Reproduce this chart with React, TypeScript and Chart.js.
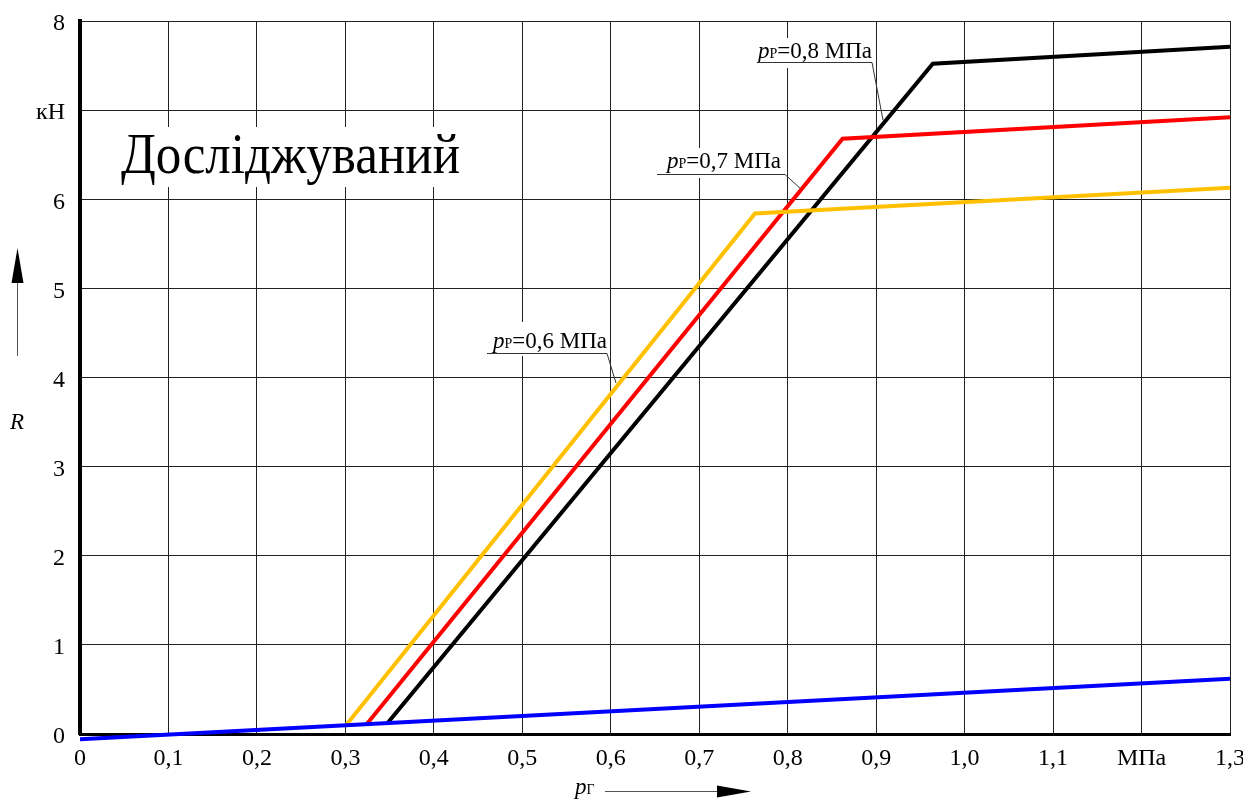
import React, { useEffect, useRef } from "react";
import { Chart, registerables } from "chart.js";

Chart.register(...registerables);

const SERIF = "'Liberation Serif', 'Times New Roman', serif";

const xTickValues = [0, 0.1, 0.2, 0.3, 0.4, 0.5, 0.6, 0.7, 0.8, 0.9, 1.0, 1.1, 1.2, 1.3];
const xTickLabels = ["0", "0,1", "0,2", "0,3", "0,4", "0,5", "0,6", "0,7", "0,8", "0,9", "1,0", "1,1", "МПа", "1,3"];
const yTickValues = [0, 1, 2, 3, 4, 5, 6, 7, 8];
const yTickLabels = ["0", "1", "2", "3", "4", "5", "6", "кН", "8"];

const blueX = [0, 1.3];
const blueY = [-0.06, 0.62];
const yellowX = [0.301, 0.763, 1.3];
const yellowY = [0.1, 5.84, 6.13];
const redX = [0.324, 0.862, 1.3];
const redY = [0.11, 6.68, 6.92];
const blackX = [0.347, 0.964, 1.3];
const blackY = [0.115, 7.52, 7.71];

const titleText = "Досліджуваний";
const labelTexts = ["=0,8 МПа", "=0,7 МПа", "=0,6 МПа"];

const toPts = (xs: number[], ys: number[]) => xs.map((x, i) => ({ x, y: ys[i] }));

const overlayPlugin = {
  id: "overlay",
  beforeDatasetsDraw(chart: any) {
    const ctx: CanvasRenderingContext2D = chart.ctx;
    ctx.save();
    ctx.fillStyle = "#fff";
    // white boxes under text
    ctx.fillRect(112, 127, 356, 60);
    ctx.fillRect(754, 38, 121, 30);
    ctx.fillRect(655, 148, 131, 30);
    ctx.fillRect(486, 322, 122, 34);

    // title
    ctx.fillStyle = "#000";
    ctx.font = `58px ${SERIF}`;
    ctx.textBaseline = "alphabetic";
    ctx.textAlign = "left";
    const w = ctx.measureText(titleText).width;
    ctx.save();
    ctx.translate(121, 173);
    ctx.scale(339 / w, 1);
    ctx.fillText(titleText, 0, 0);
    ctx.restore();

    // annotation labels
    const labels = [
      { x: 758, base: 58, ux1: 757, ux2: 872, uy: 62.5, lx: 883, ly: 120, t: labelTexts[0] },
      { x: 667, base: 168, ux1: 657, ux2: 785, uy: 174.5, lx: 802, ly: 190, t: labelTexts[1] },
      { x: 493, base: 348, ux1: 487, ux2: 607, uy: 353.5, lx: 616, ly: 383, t: labelTexts[2] },
    ];
    for (const l of labels) {
      let x = l.x;
      ctx.fillStyle = "#000";
      ctx.font = `italic 23px ${SERIF}`;
      ctx.fillText("p", x, l.base);
      x += ctx.measureText("p").width;
      ctx.font = `14px ${SERIF}`;
      ctx.fillText("Р", x, l.base);
      x += ctx.measureText("Р").width;
      ctx.font = `23px ${SERIF}`;
      ctx.fillText(l.t, x, l.base);
      ctx.strokeStyle = "#333";
      ctx.lineWidth = 1;
      ctx.beginPath();
      ctx.moveTo(l.ux1, l.uy);
      ctx.lineTo(l.ux2, l.uy);
      ctx.lineTo(l.lx, l.ly);
      ctx.stroke();
    }
    ctx.restore();
  },
  afterDraw(chart: any) {
    const ctx: CanvasRenderingContext2D = chart.ctx;
    ctx.save();
    ctx.fillStyle = "#000";
    ctx.strokeStyle = "#555";
    ctx.lineWidth = 1;
    // R arrow
    ctx.beginPath();
    ctx.moveTo(17.5, 356);
    ctx.lineTo(17.5, 280);
    ctx.stroke();
    ctx.beginPath();
    ctx.moveTo(17.5, 248);
    ctx.lineTo(23.5, 283);
    ctx.lineTo(11.5, 283);
    ctx.closePath();
    ctx.fill();
    ctx.font = `italic 23px ${SERIF}`;
    ctx.textAlign = "left";
    ctx.textBaseline = "alphabetic";
    ctx.fillText("R", 10, 429);

    // p_Г arrow
    ctx.font = `italic 23px ${SERIF}`;
    ctx.fillText("p", 575, 794);
    const pw = ctx.measureText("p").width;
    ctx.font = `14px ${SERIF}`;
    ctx.fillText("Г", 575 + pw, 794);
    ctx.beginPath();
    ctx.moveTo(605, 791.5);
    ctx.lineTo(720, 791.5);
    ctx.stroke();
    ctx.beginPath();
    ctx.moveTo(751, 791.5);
    ctx.lineTo(717, 785.5);
    ctx.lineTo(717, 797.5);
    ctx.closePath();
    ctx.fill();
    ctx.restore();
  },
};

export default function App() {
  const ref = useRef<HTMLCanvasElement>(null);
  useEffect(() => {
    if (!ref.current) return;
    const mk = (data: any, color: string, width: number) => ({
      data,
      showLine: true,
      borderColor: color,
      backgroundColor: color,
      borderWidth: width,
      pointRadius: 0,
      borderJoinStyle: "miter",
      borderCapStyle: "butt",
      clip: false,
      tension: 0,
    });
    const chart = new Chart(ref.current, {
      type: "scatter",
      data: {
        datasets: [
          mk(toPts(blueX, blueY), "#0000ff", 4),
          mk(toPts(yellowX, yellowY), "#ffc000", 4),
          mk(toPts(redX, redY), "#ff0000", 4),
          mk(toPts(blackX, blackY), "#000000", 4),
        ] as any,
      },
      options: {
        animation: false,
        responsive: false,
        maintainAspectRatio: false,
        layout: { padding: { top: 21, right: 13, left: 0, bottom: 0 } },
        plugins: { legend: { display: false }, tooltip: { enabled: false }, title: { display: false } },
        scales: {
          x: {
            type: "linear",
            min: 0,
            max: 1.3,
            afterBuildTicks: (s: any) => {
              s.ticks = xTickValues.map((v) => ({ value: v }));
            },
            afterFit: (s: any) => {
              s.height = 67;
              s.paddingLeft = 0;
              s.paddingRight = 0;
            },
            ticks: {
              autoSkip: false,
              maxRotation: 0,
              padding: 10,
              color: "#000",
              font: { family: SERIF, size: 24 },
              callback: (_v: any, i: number) => xTickLabels[i],
            },
            grid: { color: "#222", lineWidth: 1, drawTicks: false },
            border: { color: "#000", width: 3 },
          },
          y: {
            type: "linear",
            min: 0,
            max: 8,
            afterBuildTicks: (s: any) => {
              s.ticks = yTickValues.map((v) => ({ value: v }));
            },
            afterFit: (s: any) => {
              s.width = 80;
              s.paddingTop = 0;
              s.paddingBottom = 0;
            },
            ticks: {
              autoSkip: false,
              padding: 15,
              labelOffset: 3,
              color: "#000",
              font: { family: SERIF, size: 24 },
              callback: (_v: any, i: number) => yTickLabels[i],
            },
            grid: { color: "#222", lineWidth: 1, drawTicks: false },
            border: { color: "#000", width: 4 },
          },
        },
      } as any,
      plugins: [overlayPlugin],
    });
    return () => chart.destroy();
  }, []);
  return (
    <div style={{ position: "absolute", left: 0, top: 0, width: 1243, height: 801, background: "#fff" }}>
      <canvas ref={ref} width={1243} height={801} style={{ display: "block", width: 1243, height: 801 }} />
    </div>
  );
}
